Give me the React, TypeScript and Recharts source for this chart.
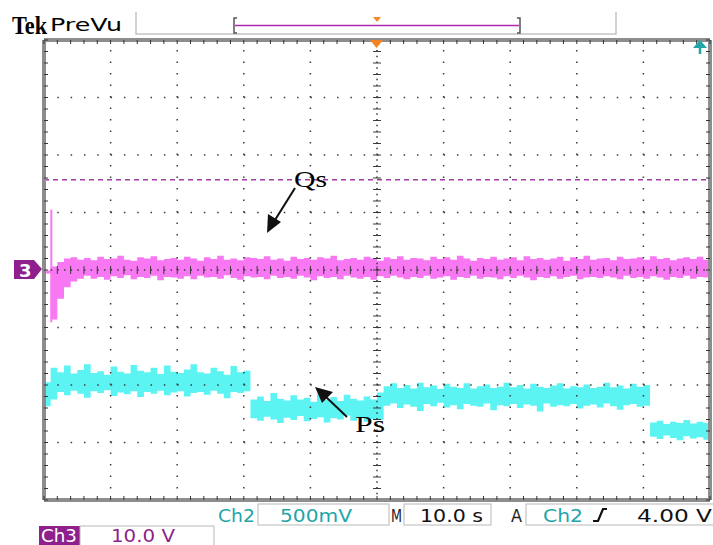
import { ComposedChart, Area, Line, XAxis, YAxis, ReferenceLine } from 'recharts';

// time in seconds (10 s/div), values in screen divisions (center = 0)
const timeSec = [
  0, 1, 2, 3, 4, 5, 6, 7, 8, 9, 10, 11, 12, 13, 14, 15, 16, 17, 18, 19, 20,
  21, 22, 23, 24, 25, 26, 27, 28, 29, 30, 31, 32, 33, 34, 35, 36, 37, 38, 39, 40,
  41, 42, 43, 44, 45, 46, 47, 48, 49, 50, 51, 52, 53, 54, 55, 56, 57, 58, 59, 60,
  61, 62, 63, 64, 65, 66, 67, 68, 69, 70, 71, 72, 73, 74, 75, 76, 77, 78, 79, 80,
  81, 82, 83, 84, 85, 86, 87, 88, 89, 90, 91, 92, 93, 94, 95, 96, 97, 98, 99, 100,
];

const qsHigh = [
  -0.01, 0.06, 0.14, 0.2, 0.22,
  0.18, 0.21, 0.17, 0.23, 0.19, 0.2, 0.25, 0.18, 0.16, 0.22,
  0.2, 0.24, 0.17, 0.19, 0.21, 0.18, 0.23, 0.2, 0.16, 0.22,
  0.19, 0.25, 0.18, 0.2, 0.17, 0.22, 0.21, 0.19, 0.24, 0.18,
  0.2, 0.16, 0.23, 0.19, 0.21, 0.18, 0.22, 0.2, 0.25, 0.17,
  0.19, 0.21, 0.18, 0.23, 0.2, 0.16, 0.22, 0.19, 0.24, 0.18,
  0.21, 0.2, 0.17, 0.23, 0.19, 0.22, 0.18, 0.25, 0.2, 0.16,
  0.21, 0.19, 0.23, 0.18, 0.2, 0.22, 0.17, 0.24, 0.19, 0.21,
  0.18, 0.2, 0.23, 0.16, 0.22, 0.19, 0.25, 0.18, 0.2, 0.21,
  0.17, 0.23, 0.19, 0.2, 0.22, 0.18, 0.24, 0.19, 0.21, 0.17, 0.2,
  0.22, 0.19, 0.23, 0.18, 0.2,
];

const qsLow = [
  -0.06, -0.86, -0.5, -0.3, -0.2,
  -0.15, -0.1, -0.15, -0.12, -0.17, -0.11, -0.14, -0.09, -0.16, -0.12,
  -0.14, -0.1, -0.18, -0.12, -0.13, -0.15, -0.11, -0.16, -0.1, -0.13,
  -0.12, -0.15, -0.09, -0.14, -0.17, -0.11, -0.13, -0.12, -0.16, -0.1,
  -0.14, -0.12, -0.15, -0.1, -0.13, -0.18, -0.11, -0.14, -0.12, -0.16,
  -0.1, -0.13, -0.15, -0.12, -0.17, -0.11, -0.14, -0.1, -0.13, -0.16,
  -0.12, -0.14, -0.1, -0.15, -0.13, -0.11, -0.17, -0.12, -0.14, -0.1,
  -0.15, -0.12, -0.13, -0.16, -0.11, -0.14, -0.1, -0.13, -0.18, -0.12,
  -0.14, -0.11, -0.15, -0.12, -0.1, -0.16, -0.13, -0.12, -0.14, -0.11,
  -0.13, -0.16, -0.1, -0.14, -0.12, -0.15, -0.11, -0.13, -0.17, -0.12, -0.14,
  -0.1, -0.15, -0.12, -0.13, -0.11,
];

// start-up spike of Qs
const qsSpike = [
  { t: 1.1, v: 1.05 },
  { t: 1.1, v: -0.91 },
];

const psHigh = [
  -1.95, -1.7,
  -1.78, -1.66, -1.8, -1.74, -1.64, -1.79, -1.76, -1.82, -1.68, -1.77,
  -1.8, -1.65, -1.75, -1.78, -1.7, -1.81, -1.66, -1.77, -1.79, -1.73,
  -1.64, -1.78, -1.8, -1.7, -1.76, -1.82, -1.67, -1.78, -1.75,
  -2.25, -2.2, -2.28, -2.14, -2.24, -2.27, -2.18, -2.25, -2.22, -2.29,
  -2.15, -2.26, -2.21, -2.28, -2.17, -2.24, -2.27, -2.2, -2.25, -2.13,
  -2.02, -1.97, -2.05, -2.0, -2.06, -1.96, -2.04, -2.01, -2.07, -1.98,
  -2.03, -2.05, -1.97, -2.06, -2.02, -1.99, -2.05, -2.03, -1.96, -2.04,
  -2.0, -2.06, -1.98, -2.03, -2.05, -2.01, -1.97, -2.06, -2.02, -2.04,
  -1.99, -2.05, -2.03, -1.96, -2.04, -2.01, -2.06, -1.98, -2.03, -2.0,
  -2.65, -2.62, -2.68, -2.64, -2.66, -2.61, -2.67, -2.64, -2.66, -2.65,
];

const psLow = [
  -2.37, -2.25,
  -2.12, -2.18, -2.1, -2.15, -2.22, -2.11, -2.14, -2.09, -2.19, -2.13,
  -2.16, -2.11, -2.21, -2.12, -2.15, -2.1, -2.18, -2.13, -2.11, -2.2,
  -2.14, -2.12, -2.17, -2.1, -2.15, -2.23, -2.12, -2.14, -2.11,
  -2.58, -2.62, -2.55, -2.6, -2.66, -2.57, -2.61, -2.54, -2.63, -2.59,
  -2.56, -2.65, -2.58, -2.6, -2.53, -2.62, -2.57, -2.64, -2.59, -2.61,
  -2.36, -2.32, -2.4, -2.34, -2.38, -2.45, -2.33, -2.37, -2.31, -2.39,
  -2.35, -2.42, -2.33, -2.36, -2.38, -2.32, -2.44, -2.35, -2.37, -2.33,
  -2.4, -2.34, -2.36, -2.46, -2.32, -2.38, -2.35, -2.37, -2.33, -2.41,
  -2.36, -2.34, -2.39, -2.32, -2.37, -2.43, -2.35, -2.33, -2.38, -2.36,
  -2.9, -2.94, -2.88, -2.92, -2.96, -2.89, -2.93, -2.91, -2.95, -2.9,
];

const qsRefLevel = 1.57;

const gridX = [10, 20, 30, 40, 60, 70, 80, 90];
const gridY = [-3, -2, -1, 1, 2, 3];
const minorX = Array.from({ length: 51 }, (_, i) => i * 2);
const minorY = Array.from({ length: 41 }, (_, i) => Math.round((-4 + i * 0.2) * 10) / 10);

const traceRows = timeSec.map((t, i) => ({
  t,
  qs: [qsLow[i], qsHigh[i]],
  ps: [psLow[i], psHigh[i]],
}));

const MAGENTA = '#F878F4';
const CYAN = '#5CF3F3';
const TEAL = '#22A5A8';
const PURPLE = '#8E1F8C';
const DOT = '#3a3a3a';
const FRAME = '#8d8d8d';
const tekFont = '"DejaVu Sans", sans-serif';

const Overlay = () => (
  <svg width={713} height={545} style={{ position: 'absolute', left: 0, top: 0, pointerEvents: 'none' }}>
    {/* header */}
    <text x={12} y={34} fontFamily='"Liberation Serif", serif' fontWeight="bold" fontSize={26} textLength={35} lengthAdjust="spacingAndGlyphs">Tek</text>
    <text x={50} y={31} fontFamily={tekFont} fontSize={17} textLength={72} lengthAdjust="spacingAndGlyphs">PreVu</text>
    <polyline points="136,12 136,34 616,34 616,12" fill="none" stroke="#c4c4c4" strokeWidth={1.5} />
    <polyline points="237,18 234,18 234,33 237,33" fill="none" stroke="#555" strokeWidth={1.5} />
    <polyline points="517,18 520,18 520,33 517,33" fill="none" stroke="#555" strokeWidth={1.5} />
    <line x1={235} y1={25.5} x2={519} y2={25.5} stroke="#B02AB0" strokeWidth={1.5} />
    <polygon points="373,17 381,17 377,22" fill="#F58A2A" />
    {/* plot markers */}
    <polygon points="370,40 383,40 376.5,48" fill="#F58220" />
    <polygon points="693,48 707,48 700,40" fill={TEAL} />
    <line x1={700} y1={47} x2={700} y2={54} stroke={TEAL} strokeWidth={2.5} />
    <polygon points="14,260 34,260 42,269 34,279 14,279" fill={PURPLE} />
    <text x={19} y={277} fontFamily={tekFont} fontWeight="bold" fontSize={18} fill="#fff">3</text>
    {/* annotations */}
    <text x={294} y={187} fontFamily='"Liberation Serif", serif' fontSize={24} textLength={33} lengthAdjust="spacingAndGlyphs">Qs</text>
    <line x1={295} y1={188} x2={275} y2={220} stroke="#111" strokeWidth={2} />
    <polygon points="267,233 268,214 281,222" fill="#111" />
    <text x={355} y={432} fontFamily='"Liberation Serif", serif' fontSize={24} textLength={30} lengthAdjust="spacingAndGlyphs">Ps</text>
    <line x1={347} y1={417} x2={325} y2={396} stroke="#111" strokeWidth={2} />
    <polygon points="315,387 333,392 322,403" fill="#111" />
    {/* status bar */}
    <text x={218} y={522} fontFamily={tekFont} fontSize={17} fill={TEAL} textLength={37} lengthAdjust="spacingAndGlyphs">Ch2</text>
    <rect x={258} y={504} width={131} height={21} fill="none" stroke="#b8b8b8" />
    <text x={280} y={522} fontFamily={tekFont} fontSize={17} fill={TEAL} textLength={72} lengthAdjust="spacingAndGlyphs">500mV</text>
    <text x={391} y={522} fontFamily={tekFont} fontSize={17} fill="#222" textLength={11} lengthAdjust="spacingAndGlyphs">M</text>
    <rect x={404} y={504} width={87} height={21} fill="none" stroke="#b8b8b8" />
    <text x={420} y={522} fontFamily={tekFont} fontSize={17} fill="#111" textLength={63} lengthAdjust="spacingAndGlyphs">10.0 s</text>
    <text x={511} y={522} fontFamily={tekFont} fontSize={17} fill="#222" textLength={11} lengthAdjust="spacingAndGlyphs">A</text>
    <rect x={526} y={504} width={190} height={21} fill="none" stroke="#b8b8b8" />
    <text x={543} y={522} fontFamily={tekFont} fontSize={17} fill={TEAL} textLength={40} lengthAdjust="spacingAndGlyphs">Ch2</text>
    <path d="M593,521 L598,521 L603,509 L607,509" fill="none" stroke="#111" strokeWidth={2.2} />
    <text x={637} y={522} fontFamily={tekFont} fontSize={17} fill="#111" textLength={75} lengthAdjust="spacingAndGlyphs">4.00 V</text>
    <rect x={39} y={526} width={41} height={19} fill={PURPLE} />
    <text x={41} y={542} fontFamily={tekFont} fontSize={17} fill="#fff" textLength={36} lengthAdjust="spacingAndGlyphs">Ch3</text>
    <rect x={80} y={526} width={134} height={20} fill="none" stroke="#b8b8b8" />
    <text x={111} y={542} fontFamily={tekFont} fontSize={17} fill={PURPLE} textLength={64} lengthAdjust="spacingAndGlyphs">10.0 V</text>
  </svg>
);

export default function App() {
  return (
    <div style={{ position: 'absolute', left: 0, top: 0, width: 713, height: 545, background: '#fff' }}>
      <ComposedChart
        width={713}
        height={545}
        data={traceRows}
        margin={{ top: 40, right: 3, bottom: 45, left: 44 }}
      >
        <XAxis dataKey="t" type="number" domain={[0, 100]} hide allowDataOverflow />
        <YAxis type="number" domain={[-4, 4]} hide allowDataOverflow />

        <Area
          dataKey="ps"
          type="stepAfter"
          stroke="none"
          fill={CYAN}
          fillOpacity={1}
          dot={false}
          activeDot={false}
          isAnimationActive={false}
        />
        <Area
          dataKey="qs"
          type="stepAfter"
          stroke="none"
          fill={MAGENTA}
          fillOpacity={1}
          dot={false}
          activeDot={false}
          isAnimationActive={false}
        />
        <Line
          data={qsSpike}
          dataKey="v"
          type="linear"
          stroke={MAGENTA}
          strokeWidth={2}
          dot={false}
          activeDot={false}
          isAnimationActive={false}
        />

        {gridY.map((y) => (
          <ReferenceLine key={`gy${y}`} y={y} stroke={DOT} strokeWidth={1.5} strokeDasharray="1.5 11.82" />
        ))}
        {gridX.map((x) => (
          <ReferenceLine key={`gx${x}`} x={x} stroke={DOT} strokeWidth={1.5} strokeDasharray="1.5 10" />
        ))}
        <ReferenceLine y={0} stroke={DOT} strokeWidth={1.5} strokeDasharray="1.5 5.16" />
        <ReferenceLine x={50} stroke={DOT} strokeWidth={1.5} strokeDasharray="1.5 4.25" />
        {minorY.map((y) => (
          <ReferenceLine
            key={`cy${y}`}
            segment={[{ x: 49.4, y }, { x: 50.6, y }]}
            stroke={DOT}
            strokeWidth={1}
          />
        ))}
        {minorX.map((x) => (
          <ReferenceLine
            key={`cx${x}`}
            segment={[{ x, y: -0.07 }, { x, y: 0.07 }]}
            stroke={DOT}
            strokeWidth={1}
          />
        ))}
        <ReferenceLine y={qsRefLevel} stroke="#A43AA6" strokeWidth={1.3} strokeDasharray="5 4" />

        {/* graticule frame with ruler ticks */}
        <ReferenceLine x={0} stroke={FRAME} strokeWidth={4} />
        <ReferenceLine x={100} stroke={FRAME} strokeWidth={4} />
        <ReferenceLine y={4} stroke={FRAME} strokeWidth={4} />
        <ReferenceLine y={-4} stroke={FRAME} strokeWidth={4} />
        {minorX.map((x) => (
          <ReferenceLine key={`tt${x}`} segment={[{ x, y: 4 }, { x, y: 3.93 }]} stroke="#333" strokeWidth={1} />
        ))}
        {minorX.map((x) => (
          <ReferenceLine key={`tb${x}`} segment={[{ x, y: -4 }, { x, y: -3.93 }]} stroke="#333" strokeWidth={1} />
        ))}
        {minorY.map((y) => (
          <ReferenceLine key={`tl${y}`} segment={[{ x: 0, y }, { x: 0.6, y }]} stroke="#333" strokeWidth={1} />
        ))}
        {minorY.map((y) => (
          <ReferenceLine key={`tr${y}`} segment={[{ x: 100, y }, { x: 99.4, y }]} stroke="#333" strokeWidth={1} />
        ))}
      </ComposedChart>
      <Overlay />
    </div>
  );
}
